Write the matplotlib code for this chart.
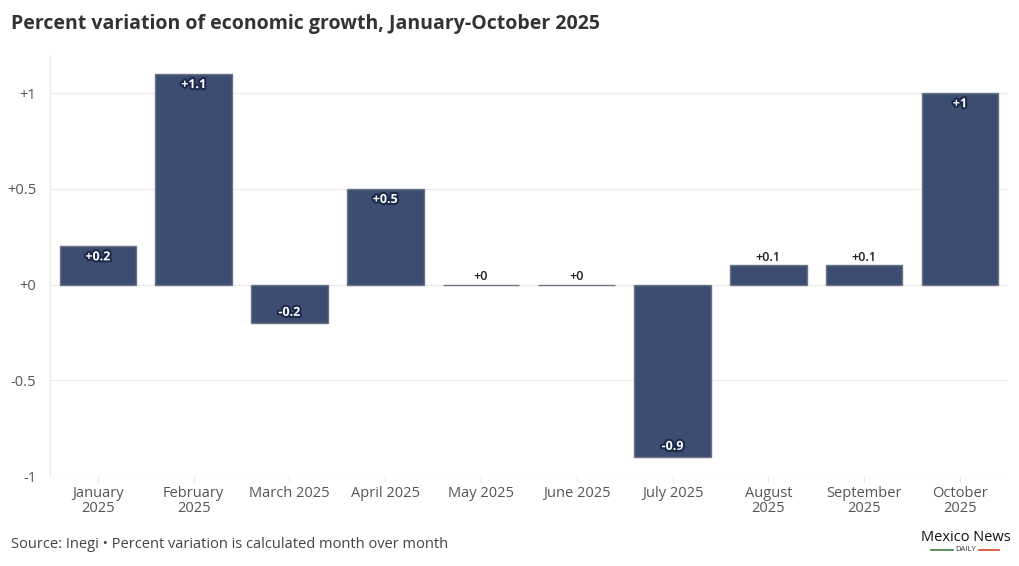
import matplotlib.pyplot as plt
import matplotlib.patheffects as pe

# Monthly percent variation (month over month)
months = ['January\n2025', 'February\n2025', 'March 2025', 'April 2025', 'May 2025',
          'June 2025', 'July 2025', 'August\n2025', 'September\n2025', 'October\n2025']
values = [0.2, 1.1, -0.2, 0.5, 0.0, 0.0, -0.9, 0.1, 0.1, 1.0]
labels = ['+0.2', '+1.1', '-0.2', '+0.5', '+0', '+0', '-0.9', '+0.1', '+0.1', '+1']
yticks = [-1, -0.5, 0, 0.5, 1]
ytick_labels = ['-1', '-0.5', '+0', '+0.5', '+1']

plt.rcParams['font.family'] = ['Open Sans', 'DejaVu Sans']

bar_color = '#3d4d72'
text_grey = '#555555'

fig = plt.figure(figsize=(10.2, 5.66), dpi=100)
ax = fig.add_axes([0.049, 0.159, 0.939, 0.744])

x = range(len(values))
ax.bar(x, values, width=0.8, color=bar_color, edgecolor='#6b7385', linewidth=1, zorder=3)

# value labels: inside the bar for larger values, above for tiny ones
for i, (v, lab) in enumerate(zip(values, labels)):
    if abs(v) >= 0.2:
        off = -0.055 if v > 0 else 0.055
        t = ax.text(i, v + off, lab, ha='center', va='center', fontsize=9, fontweight='bold',
                    color='white', zorder=4)
        t.set_path_effects([pe.withStroke(linewidth=3, foreground='#1c2a4a')])
    else:
        ax.text(i, v + 0.01, lab, ha='center', va='bottom', fontsize=9, fontweight='semibold',
                color='#222222', zorder=4)

ax.set_xlim(-0.5, len(values) - 0.5)
ax.set_ylim(-1, 1.2)
ax.set_yticks(yticks)
ax.set_yticklabels(ytick_labels)
ax.set_xticks(list(x))
ax.set_xticklabels(months, linespacing=1.0)
ax.tick_params(axis='y', length=0, labelsize=10.5, labelcolor=text_grey, pad=10)
ax.tick_params(axis='x', length=4, color='#e8e8e8', labelsize=10.5, labelcolor=text_grey, pad=3)
ax.grid(axis='y', color='#ebebeb', linewidth=0.8, zorder=0)
for s in ['top', 'right', 'bottom']:
    ax.spines[s].set_visible(False)
ax.spines['left'].set_color('#ebebeb')

fig.text(0.011, 0.958, 'Percent variation of economic growth, January-October 2025',
         fontsize=14, fontweight='bold', color='#333333', va='center')
fig.text(0.011, 0.038, 'Source: Inegi \u2022 Percent variation is calculated month over month',
         fontsize=10.5, color='#444444', va='center')

# logo
fig.text(0.947, 0.051, 'Mexico News', fontsize=10.5, color='#111111', ha='center', va='center')
fig.text(0.947, 0.029, 'DAILY', fontsize=5.5, color='#333333', ha='center', va='center')
fig.add_artist(plt.Line2D([0.913, 0.934], [0.029, 0.029], color='#4c8a4a', linewidth=1.3))
fig.add_artist(plt.Line2D([0.960, 0.979], [0.029, 0.029], color='#d9553a', linewidth=1.3))

fig.savefig('out.png', dpi=100)
